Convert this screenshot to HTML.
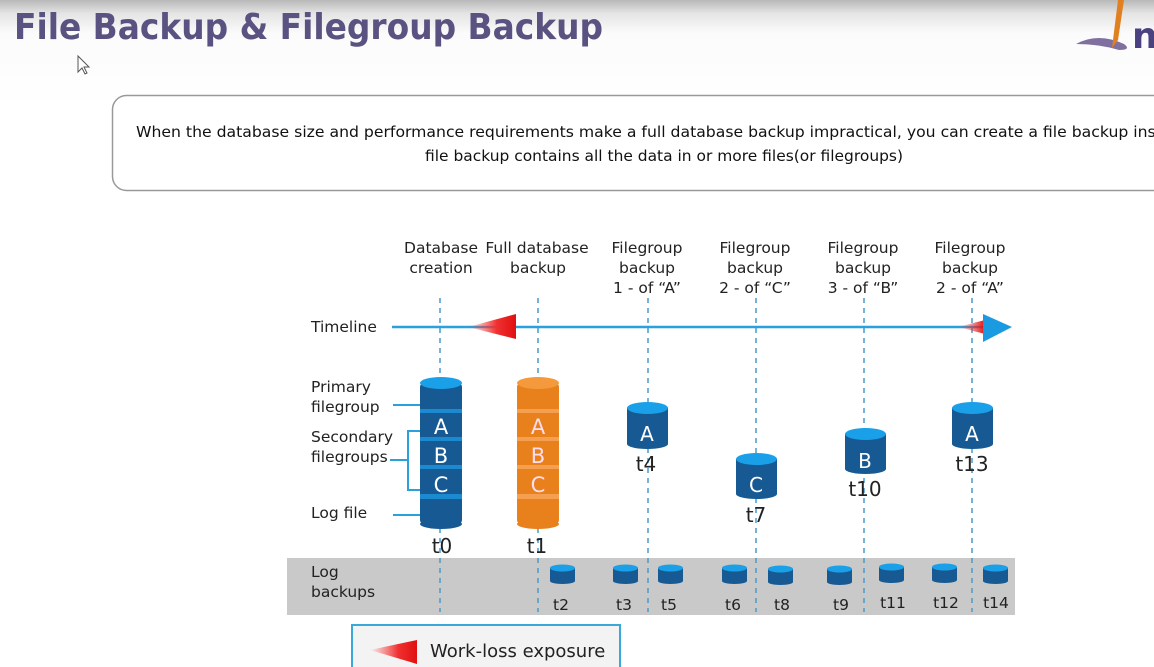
<!DOCTYPE html>
<html><head><meta charset="utf-8"><style>
html,body{margin:0;padding:0;width:1154px;height:667px;overflow:hidden;background:#fff}
svg text{font-family:"DejaVu Sans","Liberation Sans",sans-serif}
</style></head><body>
<svg width="1154" height="667" viewBox="0 0 1154 667" xmlns="http://www.w3.org/2000/svg">
<defs>
<linearGradient id="bg" x1="0" y1="0" x2="0" y2="1">
<stop offset="0" stop-color="#b8b8b8"/><stop offset="0.12" stop-color="#e4e4e4"/><stop offset="0.3" stop-color="#fbfbfb"/><stop offset="1" stop-color="#fff"/></linearGradient>
<linearGradient id="red" x1="0" y1="0" x2="1" y2="0">
<stop offset="0" stop-color="#ff4040" stop-opacity="0"/><stop offset="0.6" stop-color="#f03030"/><stop offset="1" stop-color="#e01010"/></linearGradient>
<linearGradient id="red2" x1="0" y1="0" x2="1" y2="0">
<stop offset="0" stop-color="#ff4040" stop-opacity="0"/><stop offset="1" stop-color="#e01010"/></linearGradient>
</defs>
<rect width="1154" height="667" fill="#fff"/>
<rect width="1154" height="110" fill="url(#bg)"/>
<text x="14" y="39" font-size="36" font-weight="bold" fill="#5a5280" textLength="589" lengthAdjust="spacingAndGlyphs">File Backup &amp; Filegroup Backup</text>
<path d="M1076 44 q22 -12 48 0 q8 6 -5 6 q-20 -6 -43 -6z" fill="#8070a0"/>
<path d="M1118 0 l6 0 l-6 40 l-6 8z" fill="#e08020"/>
<text x="1132" y="48" font-size="36" font-weight="bold" fill="#4a4280">n</text>
<path d="M78 56 l0 16 l4 -4 l3 6 l2 -1 l-3 -6 l5 0z" fill="#fff" stroke="#555" stroke-width="1"/>
<rect x="112.5" y="95.5" width="1080" height="95" rx="14" fill="#fff" stroke="#999" stroke-width="1.5"/>
<text x="136" y="137" font-size="15" fill="#111" textLength="1060" lengthAdjust="spacingAndGlyphs">When the database size and performance requirements make a full database backup impractical, you can create a file backup instead.</text>
<text x="664" y="161" font-size="15" fill="#111" text-anchor="middle" textLength="478" lengthAdjust="spacingAndGlyphs">file backup contains all the data in or more files(or filegroups)</text>

<rect x="287" y="558" width="728" height="57" fill="#c9c9c9"/>

<g fill="#222" font-size="15.5" text-anchor="middle">
<text x="441" y="253">Database</text><text x="441" y="273">creation</text>
<text x="537" y="253">Full database</text><text x="538" y="273">backup</text>
<text x="647" y="253">Filegroup</text><text x="647" y="273">backup</text><text x="647" y="293">1 - of “A”</text>
<text x="755" y="253">Filegroup</text><text x="755" y="273">backup</text><text x="755" y="293">2 - of “C”</text>
<text x="863" y="253">Filegroup</text><text x="863" y="273">backup</text><text x="863" y="293">3 - of “B”</text>
<text x="970" y="253">Filegroup</text><text x="970" y="273">backup</text><text x="970" y="293">2 - of “A”</text>
</g>
<g fill="#222" font-size="15.5">
<text x="311" y="332">Timeline</text>
<text x="311" y="392">Primary</text><text x="311" y="412">filegroup</text>
<text x="311" y="442">Secondary</text><text x="311" y="462">filegroups</text>
<text x="311" y="518">Log file</text>
<text x="311" y="577">Log</text><text x="311" y="597">backups</text>
</g>

<g stroke="#4a9ac8" stroke-width="1.5" stroke-dasharray="5,5">
<line x1="440" y1="298" x2="440" y2="612"/>
<line x1="538" y1="298" x2="538" y2="612"/>
<line x1="648" y1="298" x2="648" y2="612"/>
<line x1="756" y1="298" x2="756" y2="612"/>
<line x1="864" y1="298" x2="864" y2="612"/>
<line x1="972" y1="298" x2="972" y2="612"/>
</g>

<line x1="392" y1="327" x2="990" y2="327" stroke="#2aa0dc" stroke-width="2.5"/>
<polygon points="468,327 516,314 516,339" fill="url(#red)"/>
<polygon points="958,327 985,320 985,334" fill="url(#red2)"/>
<polygon points="983,314 1012,327 983,342" fill="#1a9ae0"/>

<g stroke="#2aa0dc" stroke-width="2" fill="none">
<line x1="393" y1="405" x2="420" y2="405"/>
<line x1="393" y1="515" x2="420" y2="515"/>
<polyline points="420,431 408,431 408,490 420,490"/>
<line x1="390" y1="460" x2="408" y2="460"/>
</g>

<g>
<rect x="420" y="383" width="42" height="141" rx="4" fill="#175a93"/>
<ellipse cx="441" cy="524" rx="21" ry="5" fill="#175a93"/>
<g fill="#1b8ad0">
<rect x="420" y="409" width="42" height="4"/><rect x="420" y="437" width="42" height="4"/>
<rect x="420" y="465" width="42" height="4"/><rect x="420" y="494" width="42" height="5"/>
</g>
<ellipse cx="441" cy="383" rx="21" ry="6" fill="#1aa0e8"/>
<g fill="#fff" font-size="21" text-anchor="middle"><text x="441" y="434">A</text><text x="441" y="463">B</text><text x="441" y="492">C</text></g>
</g>
<g>
<rect x="517" y="383" width="42" height="141" rx="4" fill="#e8801c"/>
<ellipse cx="538" cy="524" rx="21" ry="5" fill="#e8801c"/>
<g fill="#f4a050">
<rect x="517" y="409" width="42" height="4"/><rect x="517" y="437" width="42" height="4"/>
<rect x="517" y="465" width="42" height="4"/><rect x="517" y="494" width="42" height="5"/>
</g>
<ellipse cx="538" cy="383" rx="21" ry="6" fill="#f59a3c"/>
<g fill="#fde" font-size="21" text-anchor="middle"><text x="538" y="434">A</text><text x="538" y="463">B</text><text x="538" y="492">C</text></g>
</g>
<g fill="#222" font-size="20" text-anchor="middle">
<text x="442" y="553">t0</text><text x="537" y="553">t1</text>
</g>

<g font-size="20" text-anchor="middle">
<rect x="627" y="408" width="41" height="36" fill="#175a93"/><ellipse cx="647.5" cy="444" rx="20.5" ry="5" fill="#175a93"/><ellipse cx="647.5" cy="408" rx="20.5" ry="6" fill="#1aa0e8"/><text x="647" y="441" fill="#fff">A</text>
<rect x="736" y="459" width="41" height="35" fill="#175a93"/><ellipse cx="756.5" cy="494" rx="20.5" ry="5" fill="#175a93"/><ellipse cx="756.5" cy="459" rx="20.5" ry="6" fill="#1aa0e8"/><text x="756" y="492" fill="#fff">C</text>
<rect x="845" y="434" width="41" height="35" fill="#175a93"/><ellipse cx="865.5" cy="469" rx="20.5" ry="5" fill="#175a93"/><ellipse cx="865.5" cy="434" rx="20.5" ry="6" fill="#1aa0e8"/><text x="865" y="468" fill="#fff">B</text>
<rect x="952" y="408" width="41" height="36" fill="#175a93"/><ellipse cx="972.5" cy="444" rx="20.5" ry="5" fill="#175a93"/><ellipse cx="972.5" cy="408" rx="20.5" ry="6" fill="#1aa0e8"/><text x="972" y="441" fill="#fff">A</text>
</g>
<g fill="#222" font-size="20" text-anchor="middle">
<text x="646" y="471">t4</text><text x="756" y="522">t7</text><text x="865" y="496">t10</text><text x="972" y="471">t13</text>
</g>

<g fill="#175a93">
<rect x="550" y="568" width="25" height="13"/><ellipse cx="562.5" cy="581" rx="12.5" ry="3"/><ellipse cx="562.5" cy="568" rx="12.5" ry="3.5" fill="#1aa0e8"/>
<rect x="613" y="568" width="25" height="13"/><ellipse cx="625.5" cy="581" rx="12.5" ry="3"/><ellipse cx="625.5" cy="568" rx="12.5" ry="3.5" fill="#1aa0e8"/>
<rect x="658" y="568" width="25" height="13"/><ellipse cx="670.5" cy="581" rx="12.5" ry="3"/><ellipse cx="670.5" cy="568" rx="12.5" ry="3.5" fill="#1aa0e8"/>
<rect x="722" y="568" width="25" height="13"/><ellipse cx="734.5" cy="581" rx="12.5" ry="3"/><ellipse cx="734.5" cy="568" rx="12.5" ry="3.5" fill="#1aa0e8"/>
<rect x="768" y="569" width="25" height="13"/><ellipse cx="780.5" cy="582" rx="12.5" ry="3"/><ellipse cx="780.5" cy="569" rx="12.5" ry="3.5" fill="#1aa0e8"/>
<rect x="827" y="569" width="25" height="13"/><ellipse cx="839.5" cy="582" rx="12.5" ry="3"/><ellipse cx="839.5" cy="569" rx="12.5" ry="3.5" fill="#1aa0e8"/>
<rect x="879" y="567" width="25" height="13"/><ellipse cx="891.5" cy="580" rx="12.5" ry="3"/><ellipse cx="891.5" cy="567" rx="12.5" ry="3.5" fill="#1aa0e8"/>
<rect x="932" y="567" width="25" height="13"/><ellipse cx="944.5" cy="580" rx="12.5" ry="3"/><ellipse cx="944.5" cy="567" rx="12.5" ry="3.5" fill="#1aa0e8"/>
<rect x="983" y="568" width="25" height="13"/><ellipse cx="995.5" cy="581" rx="12.5" ry="3"/><ellipse cx="995.5" cy="568" rx="12.5" ry="3.5" fill="#1aa0e8"/>
</g>
<g fill="#222" font-size="15.5" text-anchor="middle">
<text x="561" y="610">t2</text><text x="624" y="610">t3</text><text x="669" y="610">t5</text>
<text x="733" y="610">t6</text><text x="782" y="610">t8</text><text x="841" y="610">t9</text>
<text x="893" y="608">t11</text><text x="946" y="608">t12</text><text x="996" y="608">t14</text>
</g>

<rect x="352" y="625" width="268" height="50" fill="#f3f3f3" stroke="#3aa8d8" stroke-width="2"/>
<polygon points="370,650 417,640 417,664" fill="url(#red)"/>
<text x="430" y="657" font-size="18" fill="#222">Work-loss exposure</text>
</svg>
</body></html>
